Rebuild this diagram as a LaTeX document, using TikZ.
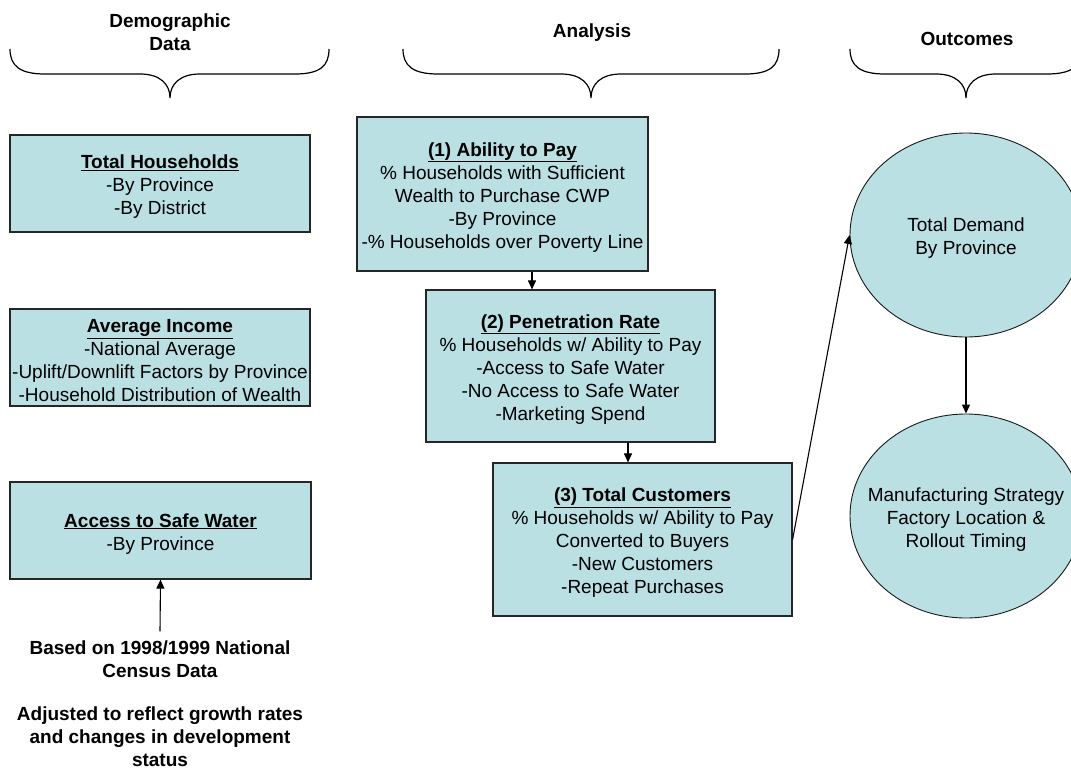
\documentclass[tikz,border=0pt]{standalone}
\usepackage{fontspec}
\setmainfont{Liberation Sans}
\usetikzlibrary{arrows.meta,shapes.geometric}
\definecolor{boxfill}{RGB}{186,224,227}
\newcommand{\mystrutA}{\rule{0pt}{20pt}}
\begin{document}
\begin{tikzpicture}[x=1pt,y=-1pt,
  every node/.style={font=\fontsize{19}{23}\selectfont, inner sep=0pt, align=center},
  infobox/.style={draw=black!85, line width=1.2pt, fill=boxfill, rectangle},
  oval/.style={draw=black!90, line width=0.9pt, fill=boxfill, ellipse, inner sep=-60pt, minimum width=232pt, minimum height=204pt},
  title/.style={font=\fontsize{19}{23}\selectfont\bfseries},
  arr/.style={line width=1.1pt, -{Triangle[length=9pt,width=8pt]}},
  bracepath/.style={line width=1.2pt}
]
\useasboundingbox (0,0) rectangle (1071,769);

% braces
\draw[bracepath] (10,49) .. controls (10,66) and (20,74) .. (45,74) -- (140,74)
  .. controls (160,74) and (170,84) .. (170,98) .. controls (170,84) and (180,74) .. (200,74)
  -- (295,74) .. controls (320,74) and (329,66) .. (329,49);
\draw[bracepath] (403,49) .. controls (403,66) and (413,74) .. (438,74) -- (561,74)
  .. controls (581,74) and (591,84) .. (591,98) .. controls (591,84) and (601,74) .. (621,74)
  -- (745,74) .. controls (770,74) and (779,66) .. (779,49);
\draw[bracepath] (850,49) .. controls (850,66) and (860,74) .. (885,74) -- (936,74)
  .. controls (956,74) and (966,84) .. (966,98) .. controls (966,84) and (976,74) .. (996,74)
  -- (1047,74) .. controls (1072,74) and (1082,66) .. (1082,49);

% titles
\node[title] (tdemo) at (170,32) {Demographic\\Data};
\node[title] (tana) at (592,33) {Analysis};
\node[title] (tout) at (967,39) {Outcomes};

% left boxes
\node[infobox, minimum width=300pt, minimum height=97pt] (th) at (160,183.5)
  {\mystrutA\textbf{\underline{Total Households}}\\-By Province\\-By District};
\node[infobox, minimum width=300pt, minimum height=97pt] (ai) at (160,357.5)
  {\mystrutA\textbf{\underline{Average Income}}\\-National Average\\-Uplift/Downlift Factors by Province\\-Household Distribution of Wealth};
\node[infobox, minimum width=301pt, minimum height=97pt] (asw) at (160.5,530.5)
  {\mystrutA\textbf{\underline{Access to Safe Water}}\\-By Province};

% bottom notes
\node[title] (based) at (160,659) {Based on 1998/1999 National\\Census Data};
\node[title] (adj) at (160,737) {Adjusted to reflect growth rates\\and changes in development\\status};
\draw[arr] ([yshift=9pt]based.north) -- (asw.south);

% analysis boxes
\node[infobox, minimum width=291pt, minimum height=154pt] (b1) at (502.5,194)
  {\mystrutA\textbf{\underline{(1) Ability to Pay}}\\\% Households with Sufficient\\Wealth to Purchase CWP\\-By Province\\-\% Households over Poverty Line};
\node[infobox, minimum width=289pt, minimum height=152pt] (b2) at (570.5,366)
  {\mystrutA\textbf{\underline{(2) Penetration Rate}}\\\% Households w/ Ability to Pay\\-Access to Safe Water\\-No Access to Safe Water\\-Marketing Spend};
\node[infobox, minimum width=299pt, minimum height=153pt] (b3) at (642.5,539.5)
  {\mystrutA\textbf{\underline{(3) Total Customers}}\\\% Households w/ Ability to Pay\\Converted to Buyers\\-New Customers\\-Repeat Purchases};

\coordinate (xa) at (532,0);
\coordinate (xb) at (628,0);
\draw[arr] (xa |- b1.south) -- (xa |- b2.north);
\draw[arr] (xb |- b2.south) -- (xb |- b3.north);

% outcomes
\node[oval] (c1) at (966,235) {\mystrutA Total Demand\\By Province};
\node[oval] (c2) at (966,516) {\mystrutA Manufacturing Strategy\\Factory Location \&\\Rollout Timing};
\draw[arr] (b3.east) -- (c1.west);
\draw[arr] (c1.south) -- (c2.north);
\end{tikzpicture}
\end{document}
